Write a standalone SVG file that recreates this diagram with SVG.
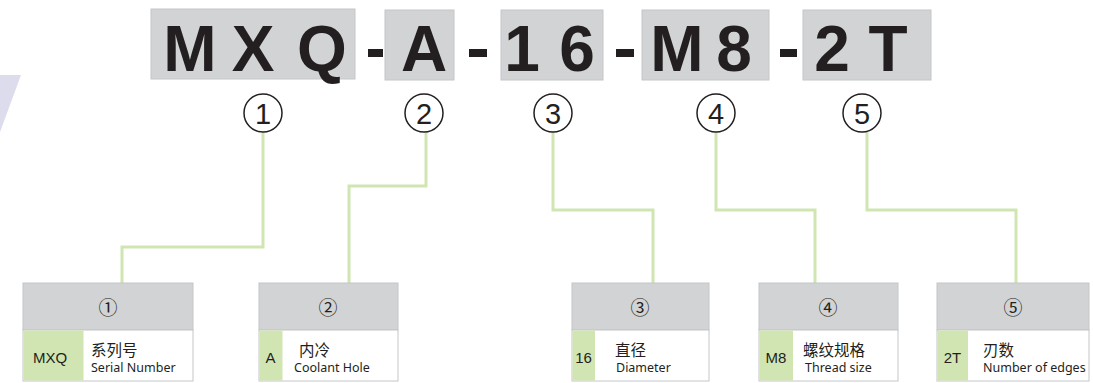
<svg xmlns="http://www.w3.org/2000/svg" width="1093" height="383" viewBox="0 0 1093 383">
<style>
.code{fill:#d1d3d4;stroke:#c4c6c8;stroke-width:1}
.big{font-family:"Liberation Sans",Arial,sans-serif;font-weight:bold;font-size:64px;fill:#231f20;text-anchor:middle}
.dash{fill:#231f20}
.circ{fill:#fff;stroke:#231f20;stroke-width:1.5}
.cnum{font-family:"Liberation Sans",Arial,sans-serif;font-size:29px;fill:#231f20;text-anchor:middle}
.conn{fill:none;stroke:#cfe6b2;stroke-width:3}
.hdr{fill:#d1d3d4;stroke:#c4c6c8;stroke-width:1}
.row{fill:#fff;stroke:#c4c6c8;stroke-width:1}
.cell{fill:#d1e5b3}
.hnum{font-family:"Noto Sans CJK SC",sans-serif;font-size:19px;fill:#231f20;text-anchor:middle}
.val{font-family:"Liberation Sans",Arial,sans-serif;font-size:15px;fill:#231f20;text-anchor:middle}
.zh{font-family:"Noto Sans CJK SC",sans-serif;font-size:15.5px;fill:#231f20}
.en{font-family:"Noto Sans","Liberation Sans",sans-serif;font-size:12.5px;fill:#231f20}
</style>
<polygon points="0,75 21,75 0,132" fill="#dcdcec"/>
<g id="code">
<g id="code-mxq"><rect class="code" x="151" y="9" width="204" height="70"/>
<text class="big" x="190" y="71">M</text><text class="big" x="253" y="71">X</text><text class="big" x="322" y="71">Q</text></g>
<rect class="dash" x="368" y="49" width="15" height="8"/>
<g id="code-a"><rect class="code" x="385" y="10" width="69" height="70"/>
<text class="big" x="424" y="71">A</text></g>
<rect class="dash" x="469" y="49" width="18" height="8"/>
<g id="code-16"><rect class="code" x="501" y="10" width="102" height="70"/>
<text class="big" x="522" y="71">1</text><text class="big" x="577" y="71">6</text></g>
<rect class="dash" x="616" y="49" width="18" height="8"/>
<g id="code-m8"><rect class="code" x="642" y="10" width="127" height="70"/>
<text class="big" x="677" y="71">M</text><text class="big" x="734" y="71">8</text></g>
<rect class="dash" x="780" y="49" width="17" height="8"/>
<g id="code-2t"><rect class="code" x="803" y="10" width="128" height="70"/>
<text class="big" x="832" y="71">2</text><text class="big" x="888" y="71">T</text></g>
</g>
<g id="connectors">
<path class="conn" d="M263,132 V247 H122 V283"/>
<path class="conn" d="M426,132 V186 H349 V283"/>
<path class="conn" d="M553,132 V210 H653 V283"/>
<path class="conn" d="M716,132 V210 H815 V283"/>
<path class="conn" d="M867,132 V210 H1016 V283"/>
</g>
<g id="marker-1"><circle class="circ" cx="263" cy="113" r="19"/><text class="cnum" x="263" y="124">1</text></g>
<g id="marker-2"><circle class="circ" cx="424" cy="113" r="19"/><text class="cnum" x="424" y="124">2</text></g>
<g id="marker-3"><circle class="circ" cx="553" cy="113" r="19"/><text class="cnum" x="553" y="124">3</text></g>
<g id="marker-4"><circle class="circ" cx="716" cy="113" r="19"/><text class="cnum" x="716" y="124">4</text></g>
<g id="marker-5"><circle class="circ" cx="862" cy="113" r="19"/><text class="cnum" x="862" y="124">5</text></g>
<g id="box-1">
<rect class="hdr" x="23" y="283" width="170" height="47"/><text class="hnum" x="108" y="315">①</text>
<rect class="row" x="23" y="330" width="170" height="51"/><rect class="cell" x="23.5" y="330.5" width="60" height="50"/>
<text class="val" x="50" y="363">MXQ</text>
<text class="zh" x="91" y="356">系列号</text><text class="en" x="91" y="372">Serial Number</text>
</g>
<g id="box-2">
<rect class="hdr" x="259" y="283" width="139" height="47"/><text class="hnum" x="328" y="315">②</text>
<rect class="row" x="259" y="330" width="139" height="51"/><rect class="cell" x="259.5" y="330.5" width="23" height="50"/>
<text class="val" x="270.5" y="363">A</text>
<text class="zh" x="299" y="356">内冷</text><text class="en" x="294" y="372">Coolant Hole</text>
</g>
<g id="box-3">
<rect class="hdr" x="572" y="283" width="137" height="47"/><text class="hnum" x="640" y="315">③</text>
<rect class="row" x="572" y="330" width="137" height="51"/><rect class="cell" x="572.5" y="330.5" width="22.5" height="50"/>
<text class="val" x="583.5" y="363">16</text>
<text class="zh" x="615" y="356">直径</text><text class="en" x="616" y="372">Diameter</text>
</g>
<g id="box-4">
<rect class="hdr" x="759" y="283" width="139" height="47"/><text class="hnum" x="828" y="315">④</text>
<rect class="row" x="759" y="330" width="139" height="51"/><rect class="cell" x="759.5" y="330.5" width="33.5" height="50"/>
<text class="val" x="776" y="363">M8</text>
<text class="zh" x="803" y="356">螺纹规格</text><text class="en" x="805" y="372">Thread size</text>
</g>
<g id="box-5">
<rect class="hdr" x="937" y="283" width="152" height="47"/><text class="hnum" x="1013" y="315">⑤</text>
<rect class="row" x="937" y="330" width="152" height="51"/><rect class="cell" x="937.5" y="330.5" width="30.5" height="50"/>
<text class="val" x="952.5" y="363">2T</text>
<text class="zh" x="983" y="356">刃数</text><text class="en" x="983" y="372">Number of edges</text>
</g>
</svg>
